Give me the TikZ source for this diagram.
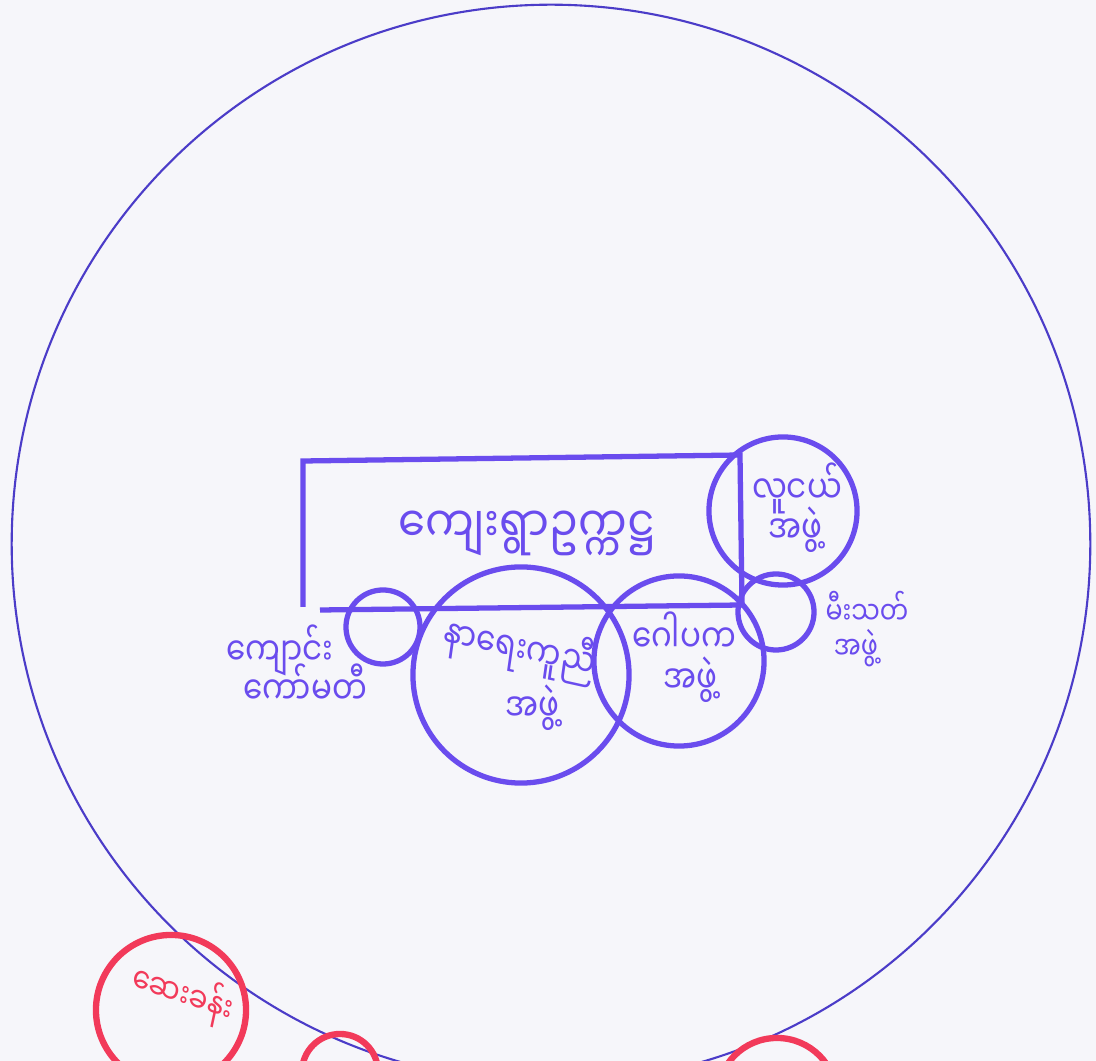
\documentclass[tikz,border=0pt]{standalone}
\usepackage{fontspec}
\newfontfamily\mmfont[Script=Myanmar]{Noto Sans Myanmar UI}
\usepackage{xcolor}
\definecolor{paperc}{HTML}{F6F6FA}
\definecolor{outc}{HTML}{4B3CC8}
\definecolor{inkc}{HTML}{6A4CEE}
\definecolor{redc}{HTML}{F23A5A}
\usetikzlibrary{positioning}
\tikzset{
  ring/.style={draw=inkc,line width=1.5pt},
  redring/.style={draw=redc,line width=1.8pt},
  lbl/.style={font=\mmfont\fontsize{11}{12}\selectfont,text=inkc,inner sep=1pt,align=center,xscale=0.8},
  smlbl/.style={lbl,font=\mmfont\fontsize{9}{10}\selectfont},
  redlbl/.style={lbl,text=redc,font=\mmfont\fontsize{10}{11}\selectfont},
}

\begin{document}
\begin{tikzpicture}[x=0.01cm,y=-0.01cm]
  \useasboundingbox (0,0) rectangle (1096,1061);
  \fill[paperc] (0,0) rectangle (1096,1061);
  \clip (0,0) rectangle (1096,1061);
  % village boundary
  \coordinate (V) at (551,544);
  \draw[outc,line width=0.6pt] (V) circle[radius=5.39cm];
  % village head box
  \coordinate (b1) at (303,607);
  \coordinate (b2) at (303,461);
  \coordinate (b3) at (740,455);
  \coordinate (b4) at (742,605);
  \coordinate (b5) at (320,610);
  \draw[ring] (b1) -- (b2) -- (b3) -- (b4) -- (b5);
  \node[lbl,font=\mmfont\fontsize{14}{15}\selectfont,xscale=1.1] (head) at (527,533) {ကျေးရွာဥက္ကဋ္ဌ};
  % groups
  \coordinate (youth) at (783,511);
  \coordinate (fire) at (776,612);
  \coordinate (gopa) at (679,661);
  \coordinate (funeral) at (521,675);
  \coordinate (school) at (383,627);
  \draw[ring] (youth) circle[radius=0.74cm];
  \draw[ring] (fire) circle[radius=0.38cm];
  \draw[ring] (gopa) circle[radius=0.85cm];
  \draw[ring] (funeral) circle[radius=1.08cm];
  \draw[ring] (school) circle[radius=0.37cm];
  \node[lbl] (youthA) at (797,488) {လူငယ်};
  \node[lbl] (youthB) at (795,530) {အဖွဲ့};
  \node[lbl,rotate=-10] (funA) at (520,648) {နာရေးကူညီ};
  \node[lbl] (funB) at (532,708) {အဖွဲ့};
  \node[lbl] (gopaA) at (684,632) {ဂေါပက};
  \node[lbl] (gopaB) at (690,680) {အဖွဲ့};
  \node[smlbl] (fireA) at (867,608) {မီးသတ်};
  \node[smlbl] (fireB) at (856,648) {အဖွဲ့};
  \node[lbl] (schA) at (280,650) {ကျောင်း};
  \node[lbl] (schB) at (305,684) {ကော်မတီ};
  % outside links
  \coordinate (clinic) at (171,1010);
  \coordinate (out2) at (340,1072);
  \coordinate (out3) at (777,1098);
  \draw[redring] (clinic) circle[radius=0.75cm];
  \draw[redring] (out2) circle[radius=0.38cm];
  \draw[redring] (out3) circle[radius=0.60cm];
  \node[redlbl,rotate=-15] (clinicA) at (183,994) {ဆေးခန်း};
\end{tikzpicture}
\end{document}
